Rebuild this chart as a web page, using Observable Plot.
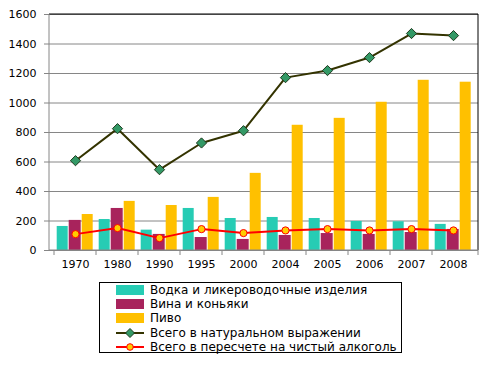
<!DOCTYPE html>
<html>
<head>
<meta charset="utf-8">
<script src="https://cdn.jsdelivr.net/npm/d3@7"></script>
<script src="https://cdn.jsdelivr.net/npm/@observablehq/plot@0.6"></script>
<style>
  html, body { margin: 0; padding: 0; background: #fff; }
  #wrap { position: relative; width: 493px; height: 365px; font-family: "DejaVu Sans", sans-serif; }
  #legend { position: absolute; left: 99px; top: 282px; width: 301px; height: 69px; border: 1px solid #000; background: #fff; font-size: 12px; }
  .item { position: absolute; left: 16px; height: 14px; display: flex; align-items: center; white-space: nowrap; }
  .item svg { margin-right: 6px; }
</style>
</head>
<body>
<div id="wrap"><div id="chart"></div><div id="legend"></div></div>
<script>
const years = ["1970","1980","1990","1995","2000","2004","2005","2006","2007","2008"];
const vodka = [163,210,138,285,217,224,217,197,195,177];
const wine  = [204,285,109,88,75,102,115,109,122,143];
const beer  = [244,333,305,360,523,849,896,1005,1154,1141];
const total = [609,826,548,729,812,1172,1220,1308,1471,1457];
const pure  = [111,152,84,145,118,136,145,136,145,136];
const yTicks = [0,200,400,600,800,1000,1200,1400,1600];
const seriesNames = [
  "Водка и ликероводочные изделия",
  "Вина и коньяки",
  "Пиво",
  "Всего в натуральном выражении",
  "Всего в пересчете на чистый алкоголь"
];
const colors = ["#26CCB4", "#A8235C", "#FFC000", "#333300", "#FF0000"];

const rows = years.map((y, i) => ({year: y, vodka: vodka[i], wine: wine[i], beer: beer[i], total: total[i], pure: pure[i]}));

const plot = Plot.plot({
  width: 493, height: 280,
  marginLeft: 49, marginRight: 15, marginTop: 14, marginBottom: 30,
  style: {fontFamily: "DejaVu Sans", fontSize: "11px", background: "white", color: "black"},
  x: {domain: years, padding: 0, label: null},
  y: {domain: [0, 1600], label: null},
  marks: [
    Plot.ruleY(yTicks, {stroke: "#868686", strokeWidth: 1}),
    Plot.barY(rows, {x: "year", y: "vodka", fill: colors[0], insetLeft: 2.7, insetRight: 28.3}),
    Plot.barY(rows, {x: "year", y: "wine", fill: colors[1], insetLeft: 14.7, insetRight: 15.3}),
    Plot.barY(rows, {x: "year", y: "beer", fill: colors[2], insetLeft: 27.7, insetRight: 3.3}),
    Plot.line(rows, {x: "year", y: "total", stroke: colors[3], strokeWidth: 2}),
    Plot.dot(rows, {x: "year", y: "total", symbol: "diamond2", r: 4.6, fill: "#339966", stroke: "#1E3A1E", strokeWidth: 1}),
    Plot.line(rows, {x: "year", y: "pure", stroke: colors[4], strokeWidth: 2}),
    Plot.dot(rows, {x: "year", y: "pure", r: 3.6, fill: "#FFCC00", stroke: "#FF0000", strokeWidth: 1}),
    Plot.axisY(yTicks, {tickSize: 5, tickPadding: 8, stroke: "#868686", label: null, tickFormat: d => String(d)}),
    Plot.axisX({tickSize: 0, tickPadding: 10, label: null})
  ]
});
document.getElementById("chart").appendChild(plot);

// frame and boundary ticks derived from the plot's own scales
const xs = plot.scale("x"), ys = plot.scale("y");
const svg = d3.select(plot);
const [x0, x1] = xs.range;
const [yb, yt] = ys.range;
const g = svg.append("g");
g.append("line").attr("x1", x0).attr("x2", x1).attr("y1", yt).attr("y2", yt).attr("stroke", "#000");
g.append("line").attr("x1", x1).attr("x2", x1).attr("y1", yt).attr("y2", yb).attr("stroke", "#000");
g.append("line").attr("x1", x0).attr("x2", x0).attr("y1", yt).attr("y2", yb).attr("stroke", "#868686");
g.append("line").attr("x1", x0).attr("x2", x1).attr("y1", yb).attr("y2", yb).attr("stroke", "#868686");
years.forEach(y => {
  const xp = xs.apply(y);
  g.append("line").attr("x1", xp).attr("x2", xp).attr("y1", yb).attr("y2", yb + 5).attr("stroke", "#868686");
});
g.append("line").attr("x1", x1).attr("x2", x1).attr("y1", yb).attr("y2", yb + 5).attr("stroke", "#868686");

// legend
const legend = document.getElementById("legend");
seriesNames.forEach((name, i) => {
  const div = document.createElement("div");
  div.className = "item";
  div.style.top = (0 + i * 14.2) + "px";
  let sw;
  if (i < 3) {
    sw = `<svg width="28" height="10"><rect x="0" y="0" width="28" height="10" fill="${colors[i]}"/></svg>`;
  } else if (i === 3) {
    sw = `<svg width="28" height="10"><line x1="0" x2="28" y1="5" y2="5" stroke="${colors[3]}" stroke-width="2"/><path d="M14,0.5L18.5,5L14,9.5L9.5,5Z" fill="#339966" stroke="#1E3A1E"/></svg>`;
  } else {
    sw = `<svg width="28" height="10"><line x1="0" x2="28" y1="5" y2="5" stroke="${colors[4]}" stroke-width="2"/><circle cx="14" cy="5" r="3.3" fill="#FFCC00" stroke="#FF0000"/></svg>`;
  }
  div.innerHTML = sw + `<span>${name}</span>`;
  legend.appendChild(div);
});
</script>
</body>
</html>
